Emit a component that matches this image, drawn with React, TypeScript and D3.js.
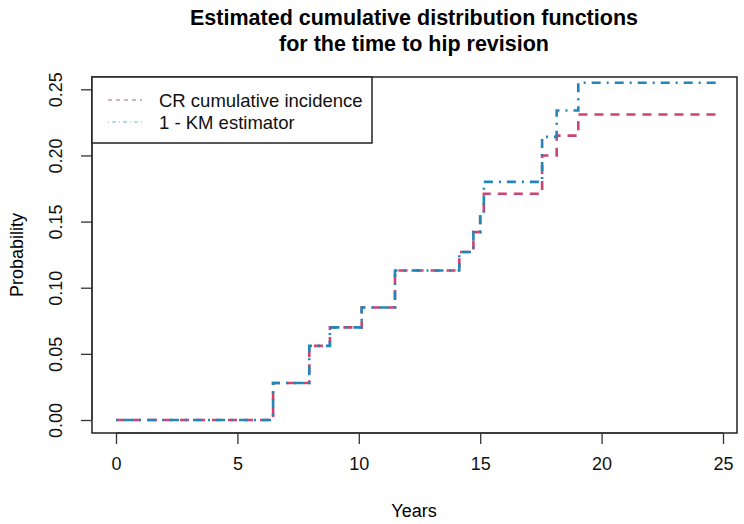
import * as d3 from "d3";
import { useRef, useEffect } from "react";

// step times (years) and estimated probabilities
const times = [0, 6.47, 7.96, 8.81, 10.12, 11.49, 14.14, 14.72, 15.0, 15.15, 17.55, 18.15, 19.04, 24.7];
const crValues = [0, 0.028, 0.056, 0.07, 0.085, 0.113, 0.127, 0.142, 0.156, 0.171, 0.2, 0.215, 0.231, 0.231];
const kmValues = [0, 0.028, 0.056, 0.07, 0.085, 0.113, 0.127, 0.142, 0.156, 0.18, 0.214, 0.234, 0.255, 0.255];

const xTicks = [0, 5, 10, 15, 20, 25];
const yTicks = [0, 0.05, 0.1, 0.15, 0.2, 0.25];
const legendLabels = ["CR cumulative incidence", "1 - KM estimator"];

const W = 744;
const H = 524;
const box = { left: 92, right: 737, top: 77, bottom: 433 };
const font = "'Liberation Sans', Arial, sans-serif";

function draw(svgEl: SVGSVGElement | null) {
  if (!svgEl) return;
  const svg = d3.select(svgEl);
  svg.selectAll("*").remove();

  const x = d3.scaleLinear().domain([0, 25]).range([116, 723]);
  const y = d3.scaleLinear().domain([0, 0.25]).range([420, 89.3]);

  // title
  const title = svg
    .append("text")
    .attr("text-anchor", "middle")
    .attr("font-family", font)
    .attr("font-weight", "bold")
    .attr("font-size", 21.5);
  title.append("tspan").attr("x", 414).attr("y", 25).text("Estimated cumulative distribution functions");
  title.append("tspan").attr("x", 414).attr("y", 51).text("for the time to hip revision");

  // plot frame
  svg
    .append("rect")
    .attr("x", box.left)
    .attr("y", box.top)
    .attr("width", box.right - box.left)
    .attr("height", box.bottom - box.top)
    .attr("fill", "none")
    .attr("stroke", "#222")
    .attr("stroke-width", 1.5);

  // x axis
  const xAxis = svg
    .append("g")
    .attr("transform", `translate(0,${box.bottom})`)
    .call(d3.axisBottom(x).tickValues(xTicks).tickSize(11).tickPadding(13).tickFormat(d3.format("d")));
  xAxis.select(".domain").attr("d", `M${x(0)},0H${x(25)}`).attr("stroke", "#333").attr("stroke-width", 1.3);
  xAxis.selectAll(".tick line").attr("stroke", "#333").attr("stroke-width", 1.3);
  xAxis.selectAll("text").attr("font-family", font).attr("font-size", 18).attr("fill", "#111");

  // y axis
  const yAxis = svg
    .append("g")
    .attr("transform", `translate(${box.left},0)`)
    .call(d3.axisLeft(y).tickValues(yTicks).tickSize(11).tickPadding(0).tickFormat(d3.format(".2f")));
  yAxis.select(".domain").attr("d", `M0,${y(0)}V${y(0.25)}`).attr("stroke", "#333").attr("stroke-width", 1.3);
  yAxis.selectAll(".tick line").attr("stroke", "#333").attr("stroke-width", 1.3);
  yAxis
    .selectAll<SVGTextElement, number>("text")
    .attr("font-family", font)
    .attr("font-size", 18)
    .attr("fill", "#111")
    .attr("text-anchor", "middle")
    .attr("dy", null)
    .attr("x", null)
    .attr("transform", "translate(-35,0) rotate(-90)")
    .attr("dominant-baseline", "middle");

  // axis titles
  svg
    .append("text")
    .attr("x", 414)
    .attr("y", 517)
    .attr("text-anchor", "middle")
    .attr("font-family", font)
    .attr("font-size", 18)
    .text("Years");
  svg
    .append("text")
    .attr("transform", `translate(23,${(box.top + box.bottom) / 2}) rotate(-90)`)
    .attr("text-anchor", "middle")
    .attr("font-family", font)
    .attr("font-size", 18)
    .text("Probability");

  // step curves
  const line = d3
    .line<number>()
    .x((_, i) => x(times[i]))
    .y((d) => y(d))
    .curve(d3.curveStepAfter);

  svg
    .append("path")
    .datum(crValues)
    .attr("d", line)
    .attr("fill", "none")
    .attr("stroke", "#cc4470")
    .attr("stroke-width", 2.6)
    .attr("stroke-dasharray", "9,7");
  svg
    .append("path")
    .datum(kmValues)
    .attr("d", line)
    .attr("fill", "none")
    .attr("stroke", "#2386b8")
    .attr("stroke-width", 2.6)
    .attr("stroke-dasharray", "2,6,9,6");

  // legend
  const legend = svg.append("g");
  legend
    .append("rect")
    .attr("x", box.left)
    .attr("y", box.top)
    .attr("width", 372 - box.left)
    .attr("height", 66)
    .attr("fill", "white")
    .attr("stroke", "#222")
    .attr("stroke-width", 1.5);
  const rows = legend
    .selectAll("g.row")
    .data(legendLabels)
    .join("g")
    .attr("class", "row")
    .attr("transform", (_, i) => `translate(0,${100 + i * 22})`);
  rows
    .append("line")
    .attr("x1", 108)
    .attr("x2", 142)
    .attr("stroke", (_, i) => (i === 0 ? "#a06674" : "#78b6c0"))
    .attr("stroke-width", 1.2)
    .attr("stroke-dasharray", (_, i) => (i === 0 ? "4,4" : "1,3,4,3"));
  rows
    .append("text")
    .attr("x", 159)
    .attr("dy", "0.36em")
    .attr("font-family", font)
    .attr("font-size", 18.5)
    .attr("fill", "#111")
    .text((d) => d);
}

const App = () => {
  const ref = useRef<SVGSVGElement | null>(null);

  useEffect(() => {
    draw(ref.current);
  }, []);

  return (
    <svg
      ref={ref}
      width={W}
      height={H}
      style={{ position: "absolute", left: 0, top: 0, background: "white" }}
    ></svg>
  );
};

export default App;
